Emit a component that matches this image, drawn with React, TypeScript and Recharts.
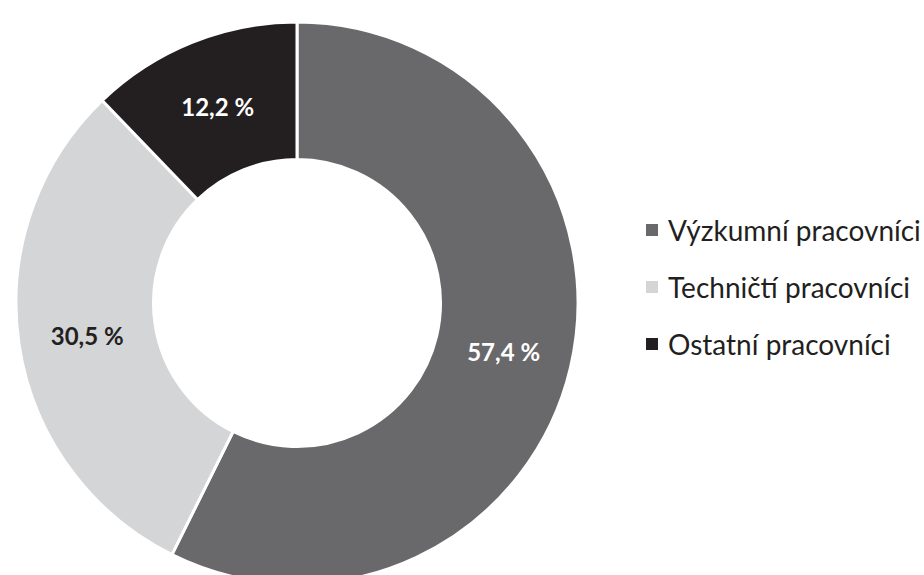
import { PieChart, Pie, Cell, Legend } from "recharts";

const categories = ["Výzkumní pracovníci", "Techničtí pracovníci", "Ostatní pracovníci"];
const shares = [57.4, 30.5, 12.2];
const sliceColors = ["#69696b", "#d4d5d7", "#231f20"];
const labelColors = ["#ffffff", "#231f20", "#ffffff"];

const data = categories.map((name, i) => ({ name, value: shares[i] }));

const RADIAN = Math.PI / 180;

const renderLabel = (props: any) => {
  const { cx, cy, midAngle, innerRadius, outerRadius, index, value } = props;
  const r = (innerRadius + outerRadius) / 2;
  const x = cx + r * Math.cos(-midAngle * RADIAN);
  const y = cy + r * Math.sin(-midAngle * RADIAN);
  return (
    <text
      x={x}
      y={y}
      fill={labelColors[index]}
      textAnchor="middle"
      dominantBaseline="central"
      fontFamily="Lato, sans-serif"
      fontWeight={700}
      fontSize={24}
    >
      {`${value.toFixed(1).replace(".", ",")} %`}
    </text>
  );
};

// keep the legend in data order (recharts sorts the payload by default)
const renderLegend = () => (
  <div>
    {categories.map((name, i) => (
      <div
        key={`legend-${i}`}
        style={{ display: "flex", alignItems: "center", height: 57 }}
      >
        <span
          style={{
            width: 12,
            height: 12,
            background: sliceColors[i],
            marginRight: 10,
            display: "inline-block",
          }}
        />
        <span
          style={{
            fontFamily: "Lato, sans-serif",
            fontSize: 28,
            color: "#231f20",
            whiteSpace: "nowrap",
          }}
        >
          {name}
        </span>
      </div>
    ))}
  </div>
);

export default function App() {
  return (
    <div style={{ width: 924, height: 575, background: "#fff" }}>
      <style>{`body{margin:0}`}</style>
      <PieChart width={924} height={575}>
        <Pie
          data={data}
          dataKey="value"
          nameKey="name"
          cx={292}
          cy={298}
          innerRadius={143.5}
          outerRadius={281}
          startAngle={90}
          endAngle={-270}
          stroke="#ffffff"
          strokeWidth={3}
          labelLine={false}
          label={renderLabel}
          isAnimationActive={false}
        >
          {data.map((entry, index) => (
            <Cell key={`cell-${index}`} fill={sliceColors[index]} />
          ))}
        </Pie>
        <Legend
          layout="vertical"
          content={renderLegend}
          wrapperStyle={{ left: 646, top: 201, width: 278 }}
        />
      </PieChart>
    </div>
  );
}
